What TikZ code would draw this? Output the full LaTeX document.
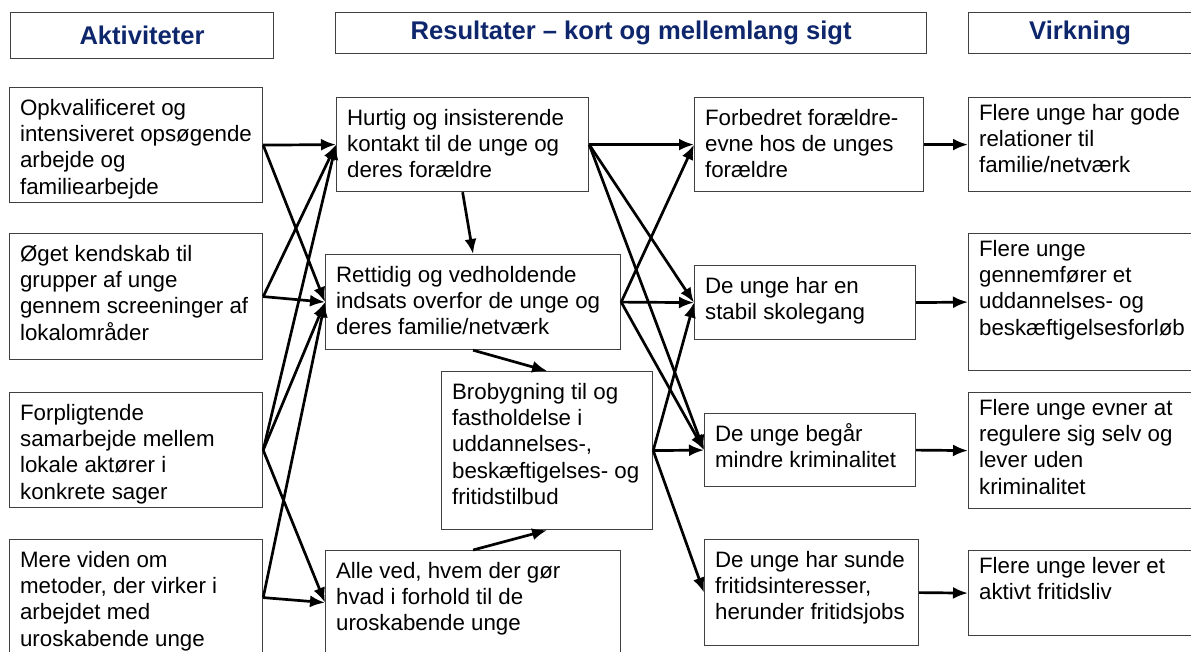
\documentclass[tikz,border=0pt]{standalone}
\usepackage{fontspec}
\setmainfont{Liberation Sans}
\usetikzlibrary{arrows.meta}
\tikzset{>=latex}
\definecolor{overskrift}{RGB}{14,38,108}
\tikzset{
  hoved/.style = {draw = black!75, line width = 1.2pt, anchor = north west, inner sep = 0pt,
                  font = \fontsize{25.6}{30}\selectfont\bfseries, text = overskrift},
  felt/.style  = {draw = black!75, line width = 1.2pt, anchor = north west,
                  inner xsep = 10.5pt, inner ysep = 9pt, font = \fontsize{22.3}{26.4}\selectfont},
  virk/.style  = {felt, inner ysep = 4pt},
  pil/.style   = {line width = 2.7pt, ->, >={Latex[length=15pt, width=12pt]}}
}
% tekstfelt: bredde, hoejde, tekst (toppen af feltet)
\newcommand{\tekst}[3]{\parbox[c][#2pt][t]{#1pt}{\raggedright\strut #3}}

\begin{document}
\begin{tikzpicture}[x = 1pt, y = -1pt]
\useasboundingbox (0,0) rectangle (1191,652);

% overskrifter
\node[hoved, minimum width = 263pt, minimum height = 46pt] (hakt) at (10,12) {Aktiviteter};
\node[hoved, minimum width = 591pt, minimum height = 41pt] (hres) at (335,12) {Resultater -- kort og mellemlang sigt};
\node[hoved, minimum width = 226pt, minimum height = 41pt] (hvirk) at (968,12) {\hspace*{-3pt}Virkning};

% aktiviteter
\node[felt] (a1) at (9,87)  {\tekst{232}{97}{Opkvalificeret og\\ intensiveret opsøgende\\ arbejde og\\ familiearbejde}};
\node[felt] (a2) at (9,233) {\tekst{232}{108}{Øget kendskab til\\ grupper af unge\\ gennem screeninger af\\ lokalområder}};
\node[felt] (a3) at (9,392) {\tekst{232}{97}{Forpligtende\\ samarbejde mellem\\ lokale aktører i\\ konkrete sager}};
\node[felt] (a4) at (9,539) {\tekst{232}{98}{Mere viden om\\ metoder, der virker i\\ arbejdet med\\ uroskabende unge}};

% resultater, foerste led
\node[felt] (r1) at (336,97)  {\tekst{231}{76}{Hurtig og insisterende\\ kontakt til de unge og\\ deres forældre}};
\node[felt] (r2) at (325,254) {\tekst{274}{77}{Rettidig og vedholdende\\ indsats overfor de unge og\\ deres familie/netværk}};
\node[felt] (r3) at (441,371) {\tekst{190}{140}{Brobygning til og\\ fastholdelse i\\ uddannelses-,\\ beskæftigelses- og\\ fritidstilbud}};
\node[felt] (r4) at (325,550) {\tekst{274}{86}{Alle ved, hvem der gør\\ hvad i forhold til de\\ uroskabende unge}};

% resultater, andet led
\node[felt] (f1) at (694,97)  {\tekst{208}{76}{Forbedret forældre-\\ evne hos de unges\\ forældre}};
\node[felt] (f2) at (694,265) {\tekst{200}{56}{De unge har en\\ stabil skolegang}};
\node[felt] (f3) at (704,413) {\tekst{190}{55}{De unge begår\\ mindre kriminalitet}};
\node[felt] (f4) at (704,539) {\tekst{193}{88}{De unge har sunde\\ fritidsinteresser,\\ herunder fritidsjobs}};

% virkning
\node[virk] (v1) at (968,97)  {\tekst{205}{86}{Flere unge har gode\\ relationer til\\ familie/netværk}};
\node[virk] (v2) at (968,233) {\tekst{205}{129}{Flere unge\\ gennemfører et\\ uddannelses- og\\ beskæftigelsesforløb}};
\node[virk] (v3) at (968,392) {\tekst{205}{108}{Flere unge evner at\\ regulere sig selv og\\ lever uden\\ kriminalitet}};
\node[virk] (v4) at (968,550) {\tekst{205}{77}{Flere unge lever et\\ aktivt fritidsliv}};

% pile fra aktiviteter
\draw[pil] (a1.east) -- (r1.west);
\draw[pil] (a1.east) -- (r2.west);
\draw[pil] (a2.east) -- (r1.west);
\draw[pil] (a2.east) -- (r2.west);
\draw[pil] (a3.east) -- (r1.west);
\draw[pil] (a3.east) -- (r2.west);
\draw[pil] (a3.east) -- (r4.west);
\draw[pil] (a4.east) -- (r2.west);
\draw[pil] (a4.east) -- (r4.west);

% pile mellem resultaterne
\draw[pil] (r1.south) -- (r2.north);
\draw[pil] (r2.south) -- (r3.north);
\draw[pil] (r4.north) -- (r3.south);

\draw[pil] (r1.east) -- (f1.west);
\draw[pil] (r1.east) -- (f2.west);
\draw[pil] (r1.east) -- (f3.west);
\draw[pil] (r2.east) -- (f1.west);
\draw[pil] (r2.east) -- (f2.west);
\draw[pil] (r2.east) -- (f3.west);
\draw[pil] (r3.east) -- (f2.west);
\draw[pil] (r3.east) -- (f3.west);
\draw[pil] (r3.east) -- (f4.west);

% pile til virkning
\draw[pil] (f1.east) -- (v1.west);
\draw[pil] (f2.east) -- (v2.west);
\draw[pil] (f3.east) -- (v3.west);
\draw[pil] (f4.east) -- (v4.west);
\end{tikzpicture}
\end{document}
